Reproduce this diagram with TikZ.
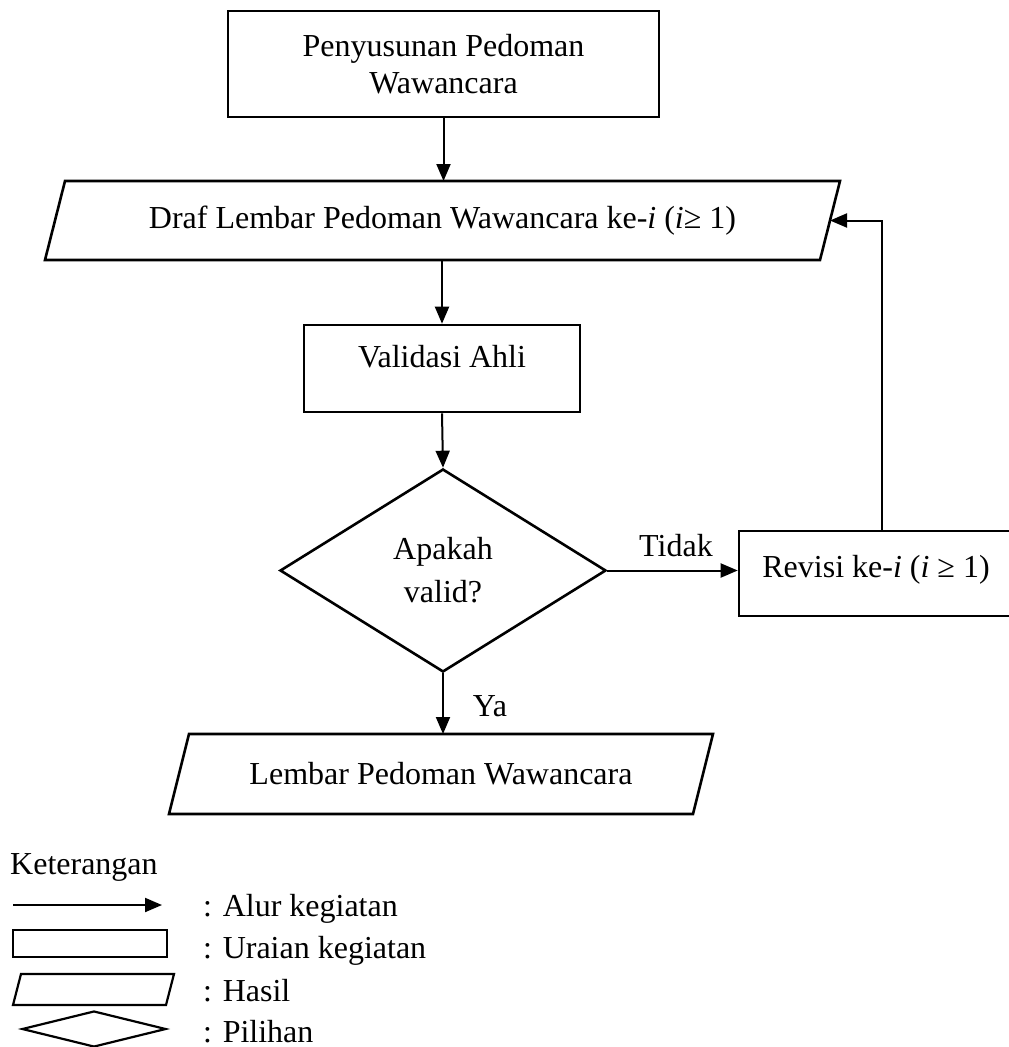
\documentclass[tikz,border=0pt]{standalone}
\usepackage{fontspec}
\setmainfont{Liberation Serif}
\usetikzlibrary{shapes.geometric,arrows.meta}
% outline of a slanted (parallelogram) box around a rectangular node
\newcommand\paraoutline[3][2.6pt]{%
  \draw[line width=#1, line join=miter]
    ([xshift=#3]#2.north west) -- ([xshift=#3]#2.north east) --
    ([xshift=-#3]#2.south east) -- ([xshift=-#3]#2.south west) -- cycle;}
\begin{document}
\begin{tikzpicture}[x=1pt,y=-1pt,
  every node/.style={font=\fontsize{32}{37}\selectfont, inner sep=0pt},
  proc/.style={draw, line width=2.6pt, rectangle},
  result/.style={rectangle, outer sep=0pt},
  choice/.style={draw, line width=2.6pt, diamond},
  flow/.style={line width=2pt, -{Triangle[length=17pt,width=14pt]}}]
\useasboundingbox (0,0) rectangle (1009,1047);

% main flow
\node[proc, minimum width=431pt, minimum height=106pt, align=center] (prep) at (443.5,64)
  {Penyusunan Pedoman\\Wawancara};
\node[result, minimum width=775pt, minimum height=79pt] (draf) at (442.5,220.5)
  {Draf Lembar Pedoman Wawancara ke-\textit{i} (\textit{i}≥ 1)};
\paraoutline{draf}{10pt}
\node[proc, minimum width=276pt, minimum height=87pt] (val) at (442,368.5) {};
\node (valtext) at (442,357) {Validasi Ahli};
\node[choice, minimum width=326pt, minimum height=203pt, align=center,
  font=\fontsize{32}{43}\selectfont] (dec) at (443,570.5) {Apakah\\valid?};
\node[proc, minimum width=286pt, minimum height=85pt] (rev) at (882,573.5) {};
\node (revtext) at (876,570) {Revisi ke-\textit{i} (\textit{i} ≥ 1)};
\node[result, minimum width=524pt, minimum height=80pt] (hasil) at (441,774)
  {Lembar Pedoman Wawancara};
\paraoutline{hasil}{10pt}
\node (tidak) at (676,546) {Tidak};
\node (ya) at (490,706) {Ya};

\draw[flow] (prep.south) -- (prep.south |- draf.north);
\draw[flow] (val.north |- draf.south) -- (val.north);
\draw[flow] (val.south) -- (dec.north);
\draw[flow] (dec.east) -- (dec.east -| rev.west);
\draw[flow] (rev.north) |- (draf.east);
\draw[flow] (dec.south) -- (dec.south |- hasil.north);

% legend
\node[anchor=base west] (legend) at (10,874) {Keterangan};
\coordinate (la) at (13,905);
\coordinate (lb) at (162,905);
\draw[flow] (la) -- (lb);
\node[proc, line width=2.2pt, minimum width=154pt, minimum height=27pt] (lproc) at (90,943.5) {};
\node[result, minimum width=153pt, minimum height=31pt] (lres) at (93.5,989.5) {};
\paraoutline[2.2pt]{lres}{4pt}
\node[choice, line width=2.2pt, minimum width=144pt, minimum height=36pt] (lchoice) at (94,1029) {};
\node[anchor=base west] (lflow) at (203,916) {: Alur kegiatan};
\node[anchor=base west] (lproct) at (203,958) {: Uraian kegiatan};
\node[anchor=base west] (lrest) at (203,1001) {: Hasil};
\node[anchor=base west] (lchoicet) at (203,1042) {: Pilihan};
\end{tikzpicture}
\end{document}
